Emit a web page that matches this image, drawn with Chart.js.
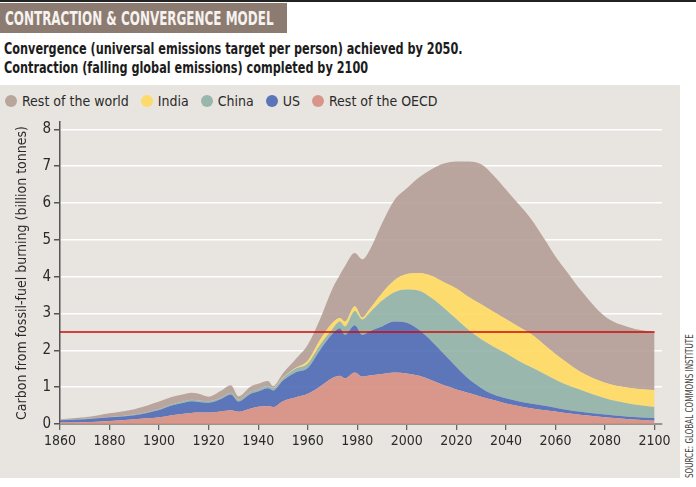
<!DOCTYPE html>
<html>
<head>
<meta charset="utf-8">
<script src="https://cdn.jsdelivr.net/npm/chart.js@4.4.1/dist/chart.umd.min.js"></script>
<style>
	body { margin: 0; background: #fff; width: 696px; height: 487px; position: relative; overflow: hidden;
		font-family: "DejaVu Sans Condensed", "Liberation Sans Narrow", "DejaVu Sans", sans-serif; }
	#topline { position: absolute; left: 0; top: 0; width: 696px; height: 2px; background: #222; }
	#title { position: absolute; left: 0; top: 3px; width: 287px; height: 30px; background: #8c7b71; overflow: hidden; }
	#title span { position: absolute; left: 5px; top: 0; color: #f6f2ef; font-weight: bold; font-size: 20px; line-height: 30px;
		white-space: nowrap; transform: scaleX(0.665); transform-origin: left center; }
	#subtitle { position: absolute; left: 4px; top: 40px; font-weight: bold; font-size: 15px; line-height: 19px; color: #1c1c1c;
		white-space: nowrap; transform: scaleX(0.835); transform-origin: left top; }
	#panel { position: absolute; left: 0; top: 85px; width: 680px; height: 393px; background: #e8e5e0; }
	#legend { position: absolute; left: 5px; top: 92px; height: 18px; display: flex; align-items: center; font-size: 14px; color: #2a2a2a; white-space: nowrap; }
	#legend span.item { display: flex; align-items: center; margin-right: 12px; }
	#legend span.dot { width: 12px; height: 12px; border-radius: 50%; margin-right: 5px; display: inline-block; }
	#wrap { position: absolute; left: 0; top: 110px; width: 680px; height: 368px; }
	#source { position: absolute; left: 684px; top: 478px; transform: rotate(-90deg) scaleX(0.8); transform-origin: left top;
		font-size: 10px; line-height: 12px; color: #444; white-space: nowrap; }
</style>
</head>
<body>
<div id="topline"></div>
<div id="title"><span>CONTRACTION &amp; CONVERGENCE MODEL</span></div>
<div id="subtitle">Convergence (universal emissions target per person) achieved by 2050.<br>Contraction (falling global emissions) completed by 2100</div>
<div id="panel"></div>
<div id="legend"></div>
<div id="wrap"><canvas id="chart" width="680" height="368"></canvas></div>
<div id="source">SOURCE: GLOBAL COMMONS INSTITUTE</div>
<script>
// years on the x axis
const years = [1860, 1870, 1880, 1890, 1900, 1905, 1910, 1913, 1916, 1920,
	1925, 1929, 1932, 1937, 1940, 1944, 1946, 1950, 1955, 1960,
	1965, 1970, 1973, 1975, 1979, 1982, 1985, 1990, 1995, 2000,
	2005, 2010, 2015, 2020, 2025, 2030, 2035, 2040, 2045, 2050,
	2055, 2060, 2065, 2070, 2080, 2090, 2100];

// billion tonnes of carbon, each region on its own (stacked in the chart)
const restOECD = [0.04, 0.05, 0.08, 0.13, 0.18, 0.24, 0.28, 0.30, 0.31, 0.31,
	0.34, 0.37, 0.33, 0.42, 0.47, 0.48, 0.46, 0.62, 0.72, 0.82,
	1.02, 1.25, 1.31, 1.24, 1.40, 1.29, 1.32, 1.36, 1.40, 1.37,
	1.31, 1.19, 1.05, 0.94, 0.84, 0.74, 0.65, 0.56, 0.49, 0.43,
	0.38, 0.34, 0.29, 0.25, 0.18, 0.13, 0.09];
const us = [0.06, 0.08, 0.10, 0.11, 0.20, 0.26, 0.30, 0.32, 0.29, 0.27,
	0.34, 0.43, 0.28, 0.40, 0.41, 0.49, 0.45, 0.56, 0.68, 0.70,
	0.99, 1.20, 1.29, 1.18, 1.28, 1.13, 1.20, 1.29, 1.38, 1.38,
	1.24, 1.06, 0.85, 0.61, 0.38, 0.24, 0.15, 0.14, 0.13, 0.13,
	0.12, 0.10, 0.09, 0.08, 0.08, 0.07, 0.07];
const china = [0.01, 0.01, 0.01, 0.02, 0.03, 0.03, 0.04, 0.04, 0.04, 0.04,
	0.04, 0.05, 0.05, 0.06, 0.06, 0.06, 0.07, 0.07, 0.10, 0.12,
	0.14, 0.13, 0.18, 0.23, 0.39, 0.42, 0.50, 0.70, 0.80, 0.90,
	1.07, 1.17, 1.25, 1.30, 1.33, 1.32, 1.30, 1.22, 1.10, 0.99,
	0.88, 0.76, 0.67, 0.60, 0.44, 0.35, 0.30];
const india = [0, 0, 0, 0, 0, 0, 0, 0, 0, 0,
	0, 0, 0, 0, 0, 0, 0, 0.01, 0.02, 0.08,
	0.14, 0.17, 0.10, 0.13, 0.13, 0.05, 0.10, 0.20, 0.32, 0.42,
	0.48, 0.60, 0.70, 0.83, 0.90, 0.95, 0.95, 0.93, 0.93, 0.90,
	0.80, 0.70, 0.60, 0.49, 0.42, 0.43, 0.46];
const restWorld = [0.02, 0.04, 0.10, 0.14, 0.20, 0.20, 0.19, 0.19, 0.18, 0.12,
	0.18, 0.20, 0.09, 0.14, 0.15, 0.14, 0.05, 0.12, 0.23, 0.43,
	0.56, 0.93, 1.17, 1.50, 1.44, 1.58, 1.60, 1.90, 2.18, 2.33,
	2.60, 2.90, 3.22, 3.45, 3.68, 3.80, 3.70, 3.52, 3.33, 3.13,
	2.90, 2.65, 2.45, 2.23, 1.80, 1.64, 1.57];

// horizontal target line
const targetYears = [1860, 2100];
const targetLevel = [2.5, 2.5];

const xTicks = [1860, 1880, 1900, 1920, 1940, 1960, 1980, 2000, 2020, 2040, 2060, 2080, 2100];
const yTicks = [0, 1, 2, 3, 4, 5, 6, 7, 8];

// bottom to top
const series = [
	{ label: "Rest of the OECD", values: restOECD, color: "rgba(214,139,126,0.88)", dot: "#d8968a" },
	{ label: "US", values: us, color: "rgba(72,102,179,0.88)", dot: "#5b75b8" },
	{ label: "China", values: china, color: "rgba(142,176,165,0.88)", dot: "#99b6ac" },
	{ label: "India", values: india, color: "rgba(255,218,91,0.88)", dot: "#fcdb6b" },
	{ label: "Rest of the world", values: restWorld, color: "rgba(178,156,147,0.88)", dot: "#b8a59c" },
];

function pts(xs, ys) {
	return xs.map((x, i) => ({ x: x, y: ys[i] }));
}

// legend, top of the stack first
let legend = document.getElementById("legend");
series.slice().reverse().forEach(function(s) {
	let item = document.createElement("span");
	item.className = "item";
	item.innerHTML = '<span class="dot" style="background:' + s.dot + '"></span>' + s.label;
	legend.appendChild(item);
});

const datasets = [];
series.forEach(function(s, i) {
	datasets.push({
		label: s.label,
		data: pts(years, s.values),
		stack: "regions",
		backgroundColor: s.color,
		borderWidth: 0,
		pointRadius: 0,
		fill: i == 0 ? "origin" : "-1",
		cubicInterpolationMode: "monotone",
	});
});
datasets.push({
	label: "target",
	data: pts(targetYears, targetLevel),
	stack: "target",
	order: -1,
	borderColor: "#cc0a0a",
	borderWidth: 1.6,
	pointRadius: 0,
	fill: false,
});

const font = "'DejaVu Sans Condensed', 'Liberation Sans Narrow', 'DejaVu Sans', sans-serif";

const chart = new Chart(document.getElementById("chart").getContext("2d"), {
	type: "line",
	data: { datasets: datasets },
	options: {
		responsive: false,
		animation: false,
		events: [],
		layout: { padding: { top: 12, right: 18, left: 0, bottom: 0 } },
		plugins: { legend: { display: false }, tooltip: { enabled: false } },
		scales: {
			x: {
				type: "linear",
				min: 1860,
				max: 2103,
				afterFit: function(s) { s.height = 54; },
				afterBuildTicks: function(s) { s.ticks = xTicks.map(v => ({ value: v })); },
				ticks: { color: "#2a2a2a", font: { family: font, size: 14 }, padding: 3, maxRotation: 0, autoSkip: false,
					callback: function(v) { return String(v); } },
				grid: { drawOnChartArea: false, tickLength: 6, tickColor: "#666", lineWidth: 1.3 },
				border: { color: "#9a948f", width: 2 },
			},
			y: {
				stacked: true,
				min: 0,
				max: 8.2,
				afterFit: function(s) { s.width = 60; },
				afterBuildTicks: function(s) { s.ticks = yTicks.map(v => ({ value: v })); },
				ticks: { color: "#2a2a2a", font: { family: font, size: 15 }, padding: 3 },
				grid: { color: "#ffffff", lineWidth: 1.5, tickLength: 6, tickColor: "#555" },
				border: { color: "#555", width: 1.5 },
				title: {
					display: true,
					text: "Carbon from fossil-fuel burning (billion tonnes)",
					color: "#2a2a2a",
					font: { family: font, size: 14 },
					padding: { top: 14 },
				},
			},
		},
	},
});
</script>
</body>
</html>
